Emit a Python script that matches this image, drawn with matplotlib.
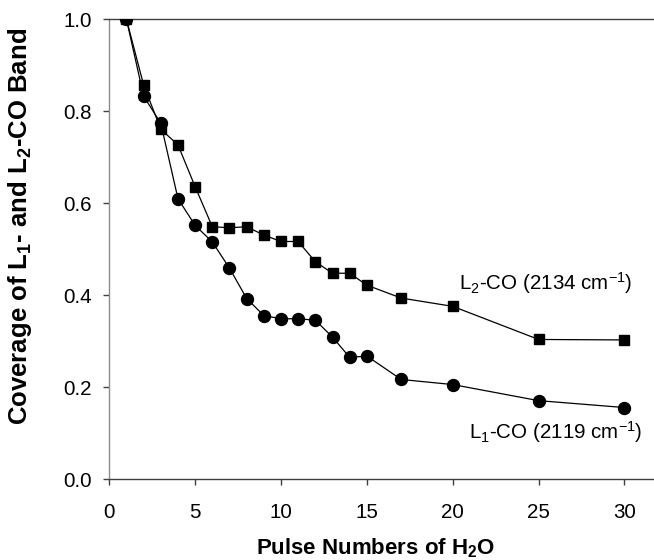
import matplotlib
matplotlib.use("Agg")
import matplotlib.pyplot as plt

plt.rcParams['font.family'] = ['Liberation Sans', 'DejaVu Sans']
plt.rcParams['mathtext.fontset'] = 'custom'
plt.rcParams['mathtext.rm'] = 'Liberation Sans'
plt.rcParams['mathtext.it'] = 'Liberation Sans:italic'
plt.rcParams['mathtext.bf'] = 'Liberation Sans:bold'

# Pulse numbers of H2O
pulses_l2 = [1, 2, 3, 4, 5, 6, 7, 8, 9, 10, 11, 12, 13, 14, 15, 17, 20, 25, 30]
pulses_l1 = [1, 2, 3, 4, 5, 6, 7, 8, 9, 10, 11, 12, 13, 14, 15, 17, 20, 25, 30]

# Normalised band coverage
cov_l2 = [1.0, 0.857, 0.761, 0.727, 0.636, 0.549, 0.547, 0.549, 0.531, 0.517,
          0.517, 0.473, 0.448, 0.448, 0.422, 0.394, 0.376, 0.304, 0.303]
cov_l1 = [1.0, 0.833, 0.774, 0.610, 0.552, 0.516, 0.459, 0.393, 0.356, 0.349,
          0.349, 0.346, 0.309, 0.265, 0.268, 0.217, 0.206, 0.171, 0.156]

x_ticks = [0, 5, 10, 15, 20, 25, 30]
y_ticks = [0.0, 0.2, 0.4, 0.6, 0.8, 1.0]

fig = plt.figure(figsize=(6.54, 5.60), dpi=100)
ax = fig.add_axes([0.1671, 0.1441, 0.8329, 0.8214])

ax.plot(pulses_l2, cov_l2, color='black', lw=0.9, marker='s', ms=7.2,
        mfc='black', mec='black', zorder=3)
ax.plot(pulses_l1, cov_l1, color='black', lw=0.9, marker='o', ms=8.6,
        mfc='black', mec='black', zorder=3)

ax.set_xlim(0, 31.72)
ax.set_ylim(0, 1.0)
ax.set_xticks(x_ticks)
ax.set_yticks(y_ticks)
ax.set_xticklabels([str(v) for v in x_ticks])
ax.set_yticklabels([f"{v:.1f}" for v in y_ticks])

ax.spines['right'].set_visible(False)
ax.spines['top'].set_color('#404040')
ax.spines['bottom'].set_color('#404040')
ax.spines['left'].set_color('#8c8c8c')
for s in ax.spines.values():
    s.set_linewidth(1.0)

ax.tick_params(axis='x', direction='out', length=4, width=1.0, color='#404040',
               labelsize=14.8, pad=13)
ax.tick_params(axis='y', direction='out', length=4.5, width=1.0, color='#404040',
               labelsize=14.8, pad=8)

ax.set_xlabel(r'Pulse Numbers of H$\mathbf{_2}$O', fontsize=16, fontweight='bold')
ax.xaxis.set_label_coords(0.489, -0.124)
ax.set_ylabel(r'Coverage of L$\mathbf{_1}$- and L$\mathbf{_2}$-CO Band', fontsize=18.5,
              fontweight='bold')
ax.yaxis.set_label_coords(-0.138, 0.55)

# Band annotations, placed in figure pixels (origin bottom-left)
ax.text(546, 560 - 283, r'L$_2$-CO (2134 cm$^{-1}$)', fontsize=14.8, ha='center',
        va='center', transform=None)
ax.text(556, 560 - 432, r'L$_1$-CO (2119 cm$^{-1}$)', fontsize=14.8, ha='center',
        va='center', transform=None)

fig.savefig('out.png', dpi=100)
